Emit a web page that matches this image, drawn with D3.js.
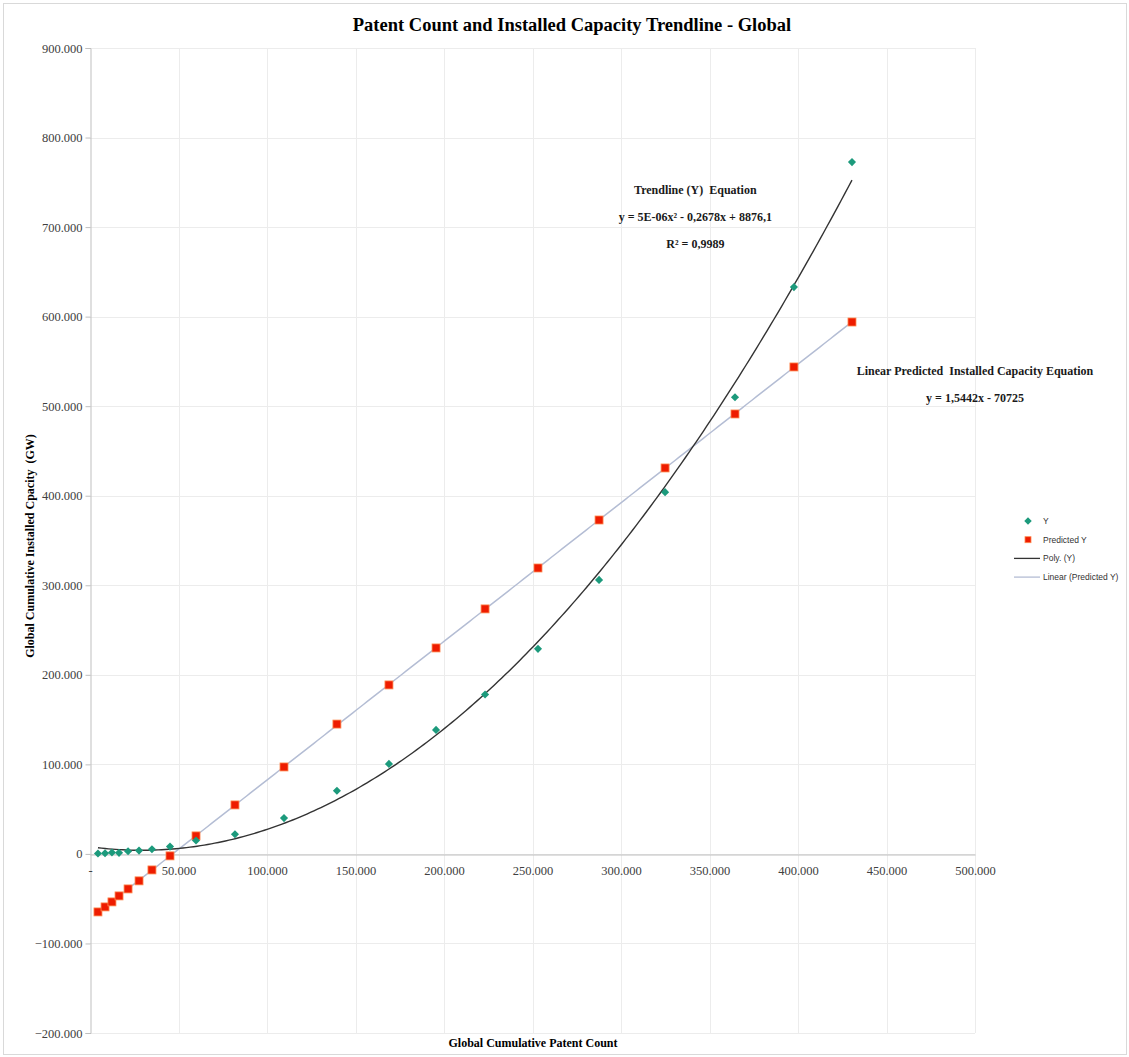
<!DOCTYPE html>
<html>
<head>
<meta charset="utf-8">
<script src="https://cdn.jsdelivr.net/npm/d3@7"></script>
<style>
	body { margin: 0; background: #ffffff; }
</style>
</head>
<body>
<script>
// values
	var patents = [4500, 8500, 12400, 16400, 21500, 27700, 35000, 45200, 59900, 81900, 109600,
		139500, 168900, 195500, 223200, 253100, 287600, 324900, 364400, 397700, 430500];
	var capacity = [500, 800, 1500, 1200, 3000, 3700, 5200, 8200, 15000, 22000, 40000,
		70500, 100500, 138500, 178000, 229000, 306000, 404000, 510000, 633000, 772600];
	var predicted = [-64800, -59200, -53600, -46900, -39100, -30100, -17900, -2200, 20100, 54700, 97100,
		145000, 188700, 230000, 273600, 319300, 372900, 431000, 491300, 543800, 594000];
	var xTicks = [0, 50000, 100000, 150000, 200000, 250000, 300000, 350000, 400000, 450000, 500000];
	var yTicks = [-200000, -100000, 0, 100000, 200000, 300000, 400000, 500000, 600000, 700000, 800000, 900000];
	var legendItems = ['Y', 'Predicted Y', 'Poly. (Y)', 'Linear (Predicted Y)'];

// parameters for layout
	var width = 1129,
		height = 1057,
		plotLeft = 90,
		plotRight = 975,
		plotTop = 48,
		plotBottom = 1033,
		serif = '"Liberation Serif", "Times New Roman", serif',
		green = '#1c9a7c',
		red = '#ee1c00',
		grid = '#ececec',
		axisCol = '#bfbfbf';

	var x = d3.scaleLinear().domain([0, 500000]).range([plotLeft, plotRight]);
	var y = d3.scaleLinear().domain([-200000, 900000]).range([plotBottom, plotTop]);

	var points = patents.map(function(p, i) {
		return {x: p, y: capacity[i], p: predicted[i]};
	});

// least squares fits, like excel trendlines
	function polyFit(xs, ys) {
		// solve normal equations for y = a x^2 + b x + c
		var s = [0, 0, 0, 0, 0], t = [0, 0, 0];
		xs.forEach(function(v, i) {
			var k = v / 1000;
			for (var j = 0; j < 5; j++) s[j] += Math.pow(k, j);
			for (var j = 0; j < 3; j++) t[j] += Math.pow(k, j) * ys[i];
		});
		var m = [[s[4], s[3], s[2], t[2]], [s[3], s[2], s[1], t[1]], [s[2], s[1], s[0], t[0]]];
		for (var c = 0; c < 3; c++) {
			for (var r = c + 1; r < 3; r++) {
				var f = m[r][c] / m[c][c];
				for (var q = c; q < 4; q++) m[r][q] -= f * m[c][q];
			}
		}
		var sol = [0, 0, 0];
		for (var r = 2; r >= 0; r--) {
			var acc = m[r][3];
			for (var q = r + 1; q < 3; q++) acc -= m[r][q] * sol[q];
			sol[r] = acc / m[r][r];
		}
		return function(v) { var k = v / 1000; return sol[0] * k * k + sol[1] * k + sol[2]; };
	}

	function linFit(xs, ys) {
		var mx = d3.mean(xs), my = d3.mean(ys), num = 0, den = 0;
		xs.forEach(function(v, i) { num += (v - mx) * (ys[i] - my); den += (v - mx) * (v - mx); });
		var b = num / den;
		return function(v) { return my + b * (v - mx); };
	}

	var poly = polyFit(patents, capacity),
		lin = linFit(patents, predicted);
	var xs = d3.range(d3.min(patents), d3.max(patents), 2000).concat([d3.max(patents)]);

	var fmt = function(v) {
		return d3.format(',')(v).replace(/,/g, '.');
	};

	var svg = d3.select('body').append('svg')
		.attr('width', width)
		.attr('height', height);

// chart border
	svg.append('rect')
		.attr('x', 3.5)
		.attr('y', 3.5)
		.attr('width', width - 6)
		.attr('height', height - 6)
		.attr('fill', '#ffffff')
		.attr('stroke', '#d9d9d9');

// gridlines
	svg.append('g').selectAll('line').data(yTicks).join('line')
		.attr('x1', plotLeft).attr('x2', plotRight)
		.attr('y1', function(d) { return Math.round(y(d)) + .5; })
		.attr('y2', function(d) { return Math.round(y(d)) + .5; })
		.attr('stroke', grid);
	svg.append('g').selectAll('line').data(xTicks.slice(1)).join('line')
		.attr('y1', plotTop).attr('y2', plotBottom)
		.attr('x1', function(d) { return Math.round(x(d)) + .5; })
		.attr('x2', function(d) { return Math.round(x(d)) + .5; })
		.attr('stroke', grid);

// y axis
	var yAxis = svg.append('g')
		.attr('transform', 'translate(' + (plotLeft + .5) + ',0)')
		.call(d3.axisLeft(y).tickValues(yTicks).tickSize(5).tickPadding(3)
			.tickFormat(function(d) { return d === 0 ? '0' : fmt(d); }));
	yAxis.select('.domain').attr('stroke', axisCol);
	yAxis.selectAll('.tick line').attr('stroke', axisCol);
	yAxis.selectAll('text')
		.attr('font-family', serif)
		.attr('font-size', 12.5)
		.attr('fill', '#404040');

// x axis crosses at zero
	var xAxis = svg.append('g')
		.attr('transform', 'translate(0,' + (Math.round(y(0)) + .5) + ')')
		.call(d3.axisBottom(x).tickValues(xTicks).tickSize(0).tickPadding(12)
			.tickFormat(function(d) { return d === 0 ? '-' : fmt(d); }));
	xAxis.select('.domain').attr('stroke', axisCol);
	xAxis.selectAll('text')
		.attr('font-family', serif)
		.attr('font-size', 12.5)
		.attr('fill', '#404040');

// trendlines
	svg.append('path')
		.datum(xs)
		.attr('fill', 'none')
		.attr('stroke', '#b4bdd4')
		.attr('stroke-width', 1.5)
		.attr('d', d3.line().x(function(d) { return x(d); }).y(function(d) { return y(lin(d)); }));
	svg.append('path')
		.datum(xs)
		.attr('fill', 'none')
		.attr('stroke', '#333333')
		.attr('stroke-width', 1.4)
		.attr('d', d3.line().curve(d3.curveMonotoneX).x(function(d) { return x(d); }).y(function(d) { return y(poly(d)); }));

// markers
	svg.append('g').selectAll('rect').data(points).join('rect')
		.attr('x', function(d) { return x(d.x) - 4; })
		.attr('y', function(d) { return y(d.p) - 4; })
		.attr('width', 8)
		.attr('height', 8)
		.attr('fill', red)
		.attr('stroke', '#ff8a50')
		.attr('stroke-width', .8);
	svg.append('g').selectAll('path').data(points).join('path')
		.attr('transform', function(d) { return 'translate(' + x(d.x) + ',' + y(d.y) + ')'; })
		.attr('d', d3.symbol(d3.symbolDiamond2, 42))
		.attr('fill', green);

// titles
	svg.append('text')
		.attr('x', 572)
		.attr('y', 31)
		.attr('text-anchor', 'middle')
		.attr('font-family', serif)
		.attr('font-size', 18.5)
		.attr('font-weight', 'bold')
		.text('Patent Count and Installed Capacity Trendline - Global');
	svg.append('text')
		.attr('x', 533)
		.attr('y', 1047)
		.attr('text-anchor', 'middle')
		.attr('font-family', serif)
		.attr('font-size', 12)
		.attr('font-weight', 'bold')
		.text('Global Cumulative Patent Count');
	svg.append('text')
		.attr('transform', 'translate(34,546) rotate(-90)')
		.attr('text-anchor', 'middle')
		.attr('font-family', serif)
		.attr('font-size', 12)
		.attr('font-weight', 'bold')
		.style('white-space', 'pre')
		.text('Global Cumulative Installed Cpacity  (GW)');

// equation labels
	var notes = [
		{t: 'Trendline (Y)  Equation', vx: 342000, vy: 741000},
		{t: 'y = 5E-06x\u00b2 - 0,2678x + 8876,1', vx: 342000, vy: 711000},
		{t: 'R\u00b2 = 0,9989', vx: 342000, vy: 681000},
		{t: 'Linear Predicted  Installed Capacity Equation', vx: 500000, vy: 539000},
		{t: 'y = 1,5442x - 70725', vx: 500000, vy: 509000}
	];
	svg.append('g').selectAll('text').data(notes).join('text')
		.attr('x', function(d) { return x(d.vx); })
		.attr('y', function(d) { return y(d.vy) + 4; })
		.attr('text-anchor', 'middle')
		.attr('font-family', serif)
		.attr('font-size', 12)
		.attr('font-weight', 'bold')
		.attr('fill', '#1a1a1a')
		.style('white-space', 'pre')
		.text(function(d) { return d.t; });

// legend
	var legend = svg.append('g')
		.attr('transform', 'translate(1014,521)');
	var rows = legend.selectAll('g').data(legendItems).join('g')
		.attr('transform', function(d, i) { return 'translate(0,' + (i * 18.7) + ')'; });
	rows.filter(function(d, i) { return i === 0; }).append('path')
		.attr('transform', 'translate(14,0)')
		.attr('d', d3.symbol(d3.symbolDiamond2, 36))
		.attr('fill', green);
	rows.filter(function(d, i) { return i === 1; }).append('rect')
		.attr('x', 11).attr('y', -3).attr('width', 6).attr('height', 6)
		.attr('fill', red).attr('stroke', '#ff8a50').attr('stroke-width', .8);
	rows.filter(function(d, i) { return i > 1; }).append('line')
		.attr('x1', 0).attr('x2', 26)
		.attr('stroke', function(d) { return d === 'Poly. (Y)' ? '#333333' : '#b4bdd4'; })
		.attr('stroke-width', 1.3);
	rows.append('text')
		.attr('x', 29)
		.attr('y', 3)
		.attr('font-family', '"Liberation Sans", Arial, sans-serif')
		.attr('font-size', 8.5)
		.attr('fill', '#333333')
		.text(function(d) { return d; });
</script>
</body>
</html>
